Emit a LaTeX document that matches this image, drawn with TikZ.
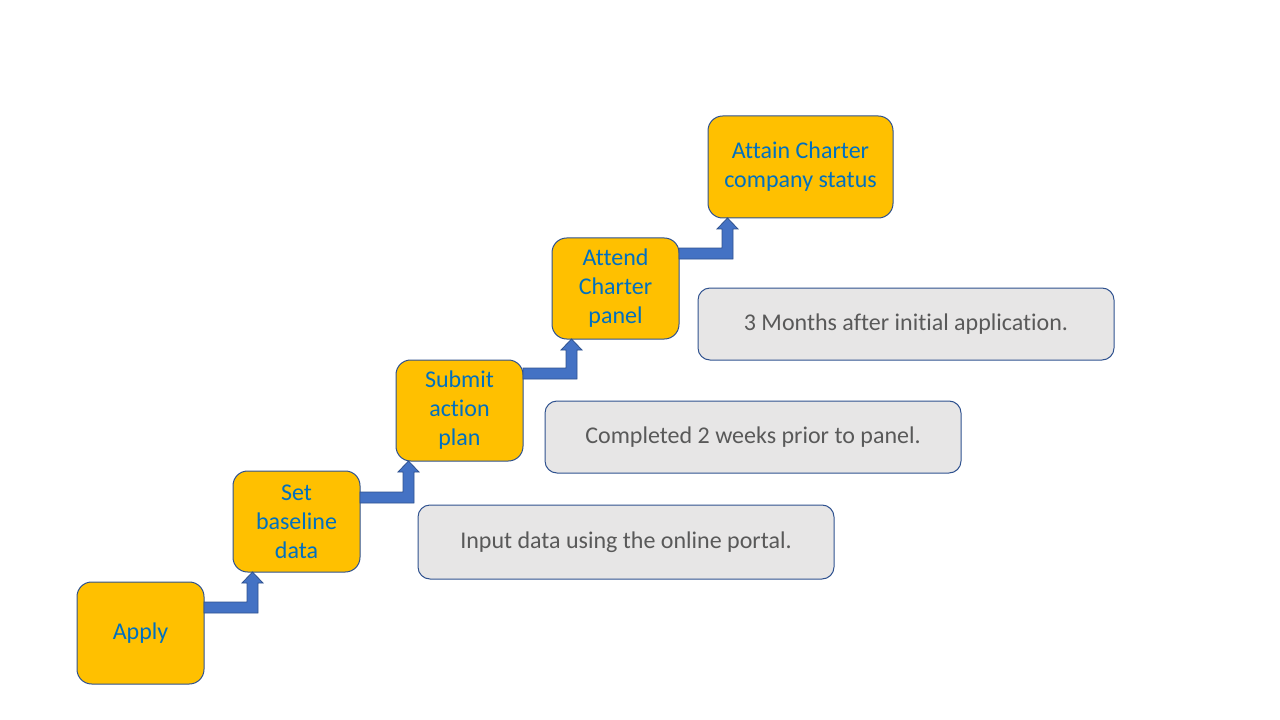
\documentclass[tikz,border=0pt]{standalone}
\usepackage{fontspec}
\setmainfont[Ligatures=NoCommon]{Carlito}
\usetikzlibrary{calc}
\definecolor{boxorange}{HTML}{FFC000}
\definecolor{edgeblue}{HTML}{2F528F}
\definecolor{arrowblue}{HTML}{4472C4}
\definecolor{textblue}{HTML}{0070C0}
\definecolor{greyfill}{HTML}{E7E6E6}
\definecolor{greytext}{HTML}{595959}
\tikzset{
  stepbox/.style={draw=edgeblue, fill=boxorange, line width=0.75pt, rounded corners=11pt,
    inner sep=0pt, outer sep=0pt, anchor=north west, align=center,
    text=textblue, font=\fontsize{18pt}{21.75pt}\selectfont},
  notebox/.style={draw=edgeblue, fill=greyfill, line width=0.75pt, rounded corners=9pt,
    inner sep=0pt, outer sep=0pt, anchor=north west, align=center,
    text=greytext, font=\fontsize{18pt}{21.75pt}\selectfont,
    minimum width=312pt, minimum height=54pt},
  arrowsty/.style={fill=arrowblue, draw=edgeblue, line width=0.6pt, line join=miter}
}
% #1 from node, #2 to node, #3 band offset (px) below top of #1, #4 stem centre offset (px) right of west of #2
\newcommand\bentarr[4]{%
  \filldraw[arrowsty] let \p1=(#1.north east), \p2=(#2.south west) in
   (\x1,{\y1-#3*0.75pt}) -- ({\x2+(#4-5.5)*0.75pt},{\y1-#3*0.75pt})
   -- ({\x2+(#4-5.5)*0.75pt},{\y2-8.25pt}) -- ({\x2+(#4-10.5)*0.75pt},{\y2-8.25pt})
   -- ({\x2+#4*0.75pt},\y2) -- ({\x2+(#4+10.5)*0.75pt},{\y2-8.25pt})
   -- ({\x2+(#4+5.5)*0.75pt},{\y2-8.25pt}) -- ({\x2+(#4+5.5)*0.75pt},{\y1-(#3+11)*0.75pt})
   -- (\x1,{\y1-(#3+11)*0.75pt}) -- cycle;}
\begin{document}
\begin{tikzpicture}[x=0.75pt,y=-0.75pt]
\useasboundingbox (0,0) rectangle (1280,720);
\node[stepbox, minimum width=95.25pt, minimum height=76.5pt] (apply) at (77,582) {Apply};
\node[stepbox, minimum width=95.25pt, minimum height=75.75pt] (base) at (233,471) {Set\\baseline\\data};
\node[stepbox, minimum width=95.25pt, minimum height=75.75pt] (plan) at (396,360) {Submit\\action\\plan};
\node[stepbox, minimum width=95.25pt, minimum height=75.75pt] (panel) at (552,238) {Attend\\Charter\\panel};
\node[stepbox, minimum width=138.75pt, minimum height=76.5pt] (status) at (708,116) {Attain Charter\\company status};

\node[notebox, minimum height=55.5pt] (n1) at (418,505) {Input data using the online portal.};
\node[notebox] (n2) at (545,401) {Completed 2 weeks prior to panel.};
\node[notebox] (n3) at (698,288) {3 Months after initial application.};

\bentarr{apply}{base}{20}{19.5}
\bentarr{base}{plan}{21}{12.5}
\bentarr{plan}{panel}{8}{19.5}
\bentarr{panel}{status}{10}{19.5}
\end{tikzpicture}
\end{document}
